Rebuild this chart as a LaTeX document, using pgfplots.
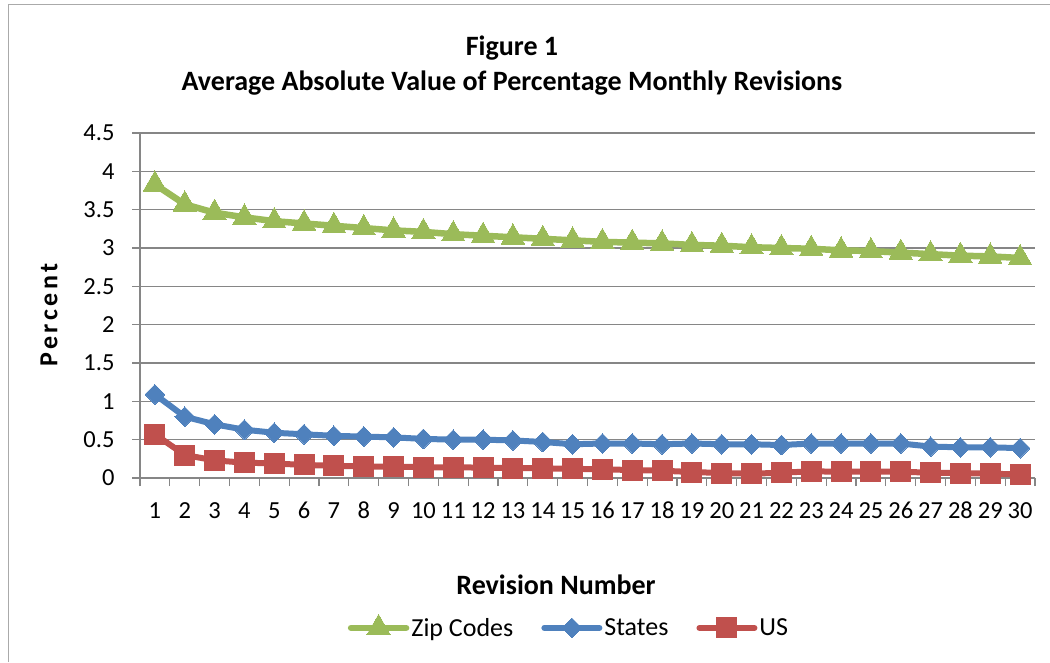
\documentclass[border=0pt]{standalone}
\usepackage{fontspec}
\setmainfont{Carlito}
\newfontfamily\spacedfont[LetterSpace=14]{Carlito}
\usepackage{pgfplots}
\pgfplotsset{compat=1.18}
\definecolor{zipc}{RGB}{155,187,89}
\definecolor{statec}{RGB}{79,129,189}
\definecolor{usc}{RGB}{192,80,77}
\definecolor{gridc}{RGB}{134,134,134}
\begin{document}
\begin{tikzpicture}
\useasboundingbox (0pt,0pt) rectangle (1050pt,662pt);
\draw[gridc!70,line width=1pt] (8pt,0pt) -- (8pt,657pt) -- (1050pt,657pt);
\node[font=\fontsize{28}{32}\selectfont\bfseries] at (512pt,614pt) {Figure 1};
\node[font=\fontsize{28}{32}\selectfont\bfseries] at (512pt,579pt) {Average Absolute Value of Percentage Monthly Revisions};
\node[font=\fontsize{26}{30}\selectfont\bfseries\spacedfont,rotate=90] at (49pt,347pt) {Percent};
\node[font=\fontsize{28}{32}\selectfont\bfseries] at (556pt,77pt) {Revision Number};
\begin{axis}[
  at={(140pt,184pt)}, anchor=south west,
  scale only axis, width=895pt, height=345pt,
  xmin=0.5, xmax=30.5, ymin=0, ymax=4.5,
  axis x line=bottom, axis y line=left,
  axis line style={-, draw=gridc, line width=1.2pt},
  xtick={1,...,30}, major x tick style={draw=none},
  minor xtick={0.5,1.5,...,30.5},
  minor x tick style={draw=gridc, line width=1.2pt},
  minor tick length=8pt,
  ytick={0,0.5,...,4.5},
  yticklabels={0,0.5,1,1.5,2,2.5,3,3.5,4,4.5},
  major y tick style={draw=gridc, line width=1.2pt},
  major tick length=8pt,
  tick align=outside,
  ymajorgrids, major grid style={draw=gridc, line width=1.2pt},
  tick label style={font=\fontsize{24.5}{28}\selectfont},
  /pgf/number format/assume math mode=true,
  xticklabel style={yshift=-13pt, text height=16pt, text depth=0pt},
  yticklabel style={xshift=-14pt},
  clip=false,
  legend style={at={(0.4793,-0.432)}, anchor=center, draw=none, fill=none,
    font=\fontsize{26}{30}\selectfont, legend columns=3,
    /tikz/every even column/.append style={column sep=26pt},
    nodes={inner sep=2pt}},
  legend image code/.code={\draw[mark repeat=2,mark phase=2] plot coordinates {(0pt,0pt)(27.5pt,0pt)(55pt,0pt)};},
  every axis plot/.append style={line cap=round, line join=round},
]
\addplot[color=zipc, line width=6.5pt, mark=triangle*, mark size=13.5pt, mark options={line width=0pt}] coordinates {
(1,3.83)(2,3.57)(3,3.46)(4,3.40)(5,3.35)(6,3.32)(7,3.29)(8,3.26)(9,3.23)(10,3.21)
(11,3.18)(12,3.16)(13,3.14)(14,3.12)(15,3.10)(16,3.08)(17,3.07)(18,3.06)(19,3.04)(20,3.03)
(21,3.01)(22,3.00)(23,2.99)(24,2.97)(25,2.96)(26,2.94)(27,2.92)(28,2.90)(29,2.89)(30,2.87)};
\addlegendentry{Zip Codes}
\addplot[color=statec, line width=6pt, mark=square*, mark size=7pt, mark options={rotate=45, line width=0pt}] coordinates {
(1,1.09)(2,0.80)(3,0.70)(4,0.63)(5,0.59)(6,0.57)(7,0.55)(8,0.54)(9,0.53)(10,0.51)
(11,0.50)(12,0.50)(13,0.49)(14,0.47)(15,0.44)(16,0.45)(17,0.45)(18,0.44)(19,0.45)(20,0.44)
(21,0.44)(22,0.43)(23,0.45)(24,0.45)(25,0.45)(26,0.45)(27,0.41)(28,0.40)(29,0.40)(30,0.39)};
\addlegendentry{States}
\addplot[color=usc, line width=6pt, mark=square*, mark size=10pt, mark options={line width=0pt}] coordinates {
(1,0.57)(2,0.30)(3,0.23)(4,0.20)(5,0.19)(6,0.17)(7,0.16)(8,0.15)(9,0.15)(10,0.14)
(11,0.14)(12,0.135)(13,0.13)(14,0.126)(15,0.12)(16,0.113)(17,0.104)(18,0.095)(19,0.078)(20,0.065)
(21,0.056)(22,0.069)(23,0.087)(24,0.082)(25,0.082)(26,0.082)(27,0.069)(28,0.065)(29,0.056)(30,0.047)};
\addlegendentry{US}
\end{axis}
\end{tikzpicture}
\end{document}
